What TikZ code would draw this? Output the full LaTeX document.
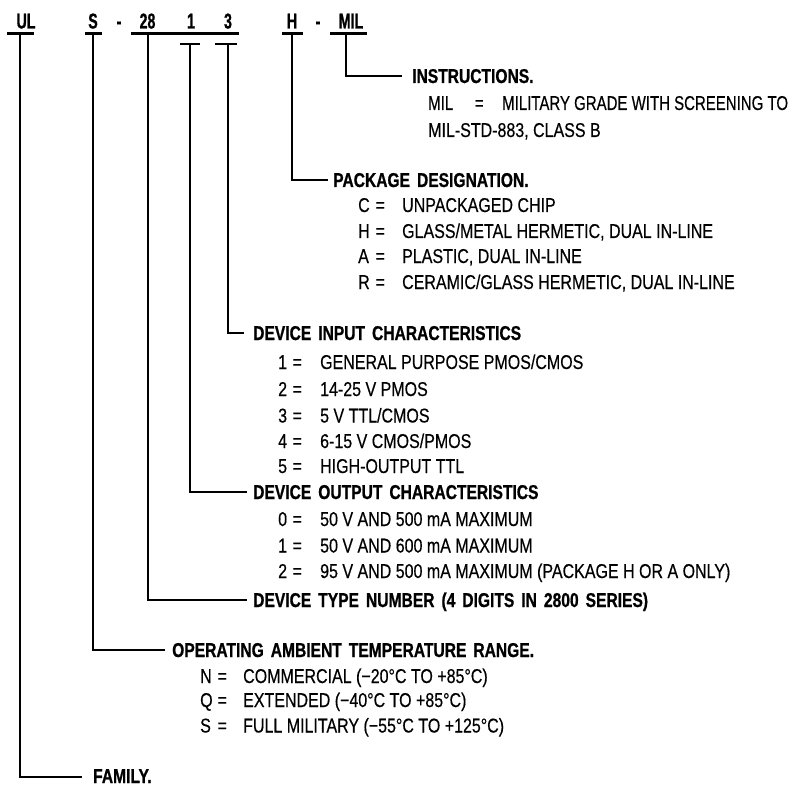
\documentclass[tikz,border=0pt]{standalone}
\usepackage{fontspec}
\setmainfont{Liberation Sans}
\newfontfamily\bodyf{Liberation Sans}[FakeStretch=0.80, FakeBold=0.4]
\newfontfamily\bodyn{Liberation Sans}[FakeStretch=0.75, FakeBold=0.4]
\newfontfamily\headf{Liberation Sans Bold}[FakeStretch=0.78, FakeBold=0.8]
\newfontfamily\codef{Liberation Sans Bold}[FakeStretch=0.66, FakeBold=0.8]
\newcommand\kvline[4]{\makebox[#1][l]{#3}\makebox[0pt][c]{=}\hspace{#2}#4}
\newcommand\widesp{\fontdimen2\font=7pt\relax}
\begin{document}
\begin{tikzpicture}[x=1pt,y=-1pt,
  code/.style={font=\codef\fontsize{21.5}{21.5}\selectfont, inner sep=0pt, anchor=base},
  head/.style={font=\headf\fontsize{20}{20}\selectfont\widesp, inner sep=0pt, anchor=base west},
  item/.style={font=\bodyf\fontsize{20}{20}\selectfont, inner sep=0pt, anchor=base west},
  itemn/.style={font=\bodyn\fontsize{20}{20}\selectfont, inner sep=0pt, anchor=base west},
  lead/.style={line width=2.3pt}]
\useasboundingbox (0,0) rectangle (805,786);
% --- code letters
\node[code] (cUL)  at (26,28.5)    {UL};
\node[code] (cS)   at (93,28.5)    {S};
\node[code] (dA)   at (119,28.5)   {-};
\node[code] (c28)  at (147.5,28.5) {28};
\node[code] (c1)   at (191,28.5)   {1};
\node[code] (c3)   at (228,28.5)   {3};
\node[code] (cH)   at (292,28.5)   {H};
\node[code] (dB)   at (318,28.5)   {-};
\node[code] (cMIL) at (351,28.5)   {MIL};
% --- underlines
\coordinate (uULa) at (7,33.5);   \coordinate (uULb) at (34,33.5);
\coordinate (uSa) at (85,33.5);   \coordinate (uSb) at (102,33.5);
\coordinate (u28a) at (131,33.5); \coordinate (u28b) at (239,33.5);
\coordinate (u1a) at (180,44);  \coordinate (u1b) at (200,44);
\coordinate (u3a) at (215,44);  \coordinate (u3b) at (237,44);
\coordinate (uHa) at (282,33.5);  \coordinate (uHb) at (303,33.5);
\coordinate (uMa) at (330,33.5);  \coordinate (uMb) at (367,33.5);
\draw[lead] (uULa) -- (uULb);
\draw[lead] (uSa) -- (uSb);
\draw[lead] (u28a) -- (u28b);
\draw[lead] (u1a) -- (u1b);
\draw[lead] (u3a) -- (u3b);
\draw[lead] (uHa) -- (uHb);
\draw[lead] (uMa) -- (uMb);
% --- leader start points
\coordinate (sUL) at (20,33.5);
\coordinate (sS) at (93,33.5);
\coordinate (s28) at (148,33.5);
\coordinate (s1) at (190,44);
\coordinate (s3) at (228,44);
\coordinate (sH) at (292,33.5);
\coordinate (sM) at (346,33.5);
% --- leader end points
\coordinate (eUL) at (82,777);
\coordinate (eS) at (165,650);
\coordinate (e28) at (247,600);
\coordinate (e1) at (247,492);
\coordinate (e3) at (244,333);
\coordinate (eH) at (328,180);
\coordinate (eM) at (402,76);
\draw[lead] (sUL) |- (eUL);
\draw[lead] (sS) |- (eS);
\draw[lead] (s28) |- (e28);
\draw[lead] (s1) |- (e1);
\draw[lead] (s3) |- (e3);
\draw[lead] (sH) |- (eH);
\draw[lead] (sM) |- (eM);
% --- INSTRUCTIONS
\node[head] (hM) at (412,83) {INSTRUCTIONS.};
\node[itemn] (iM1) at (428,110) {\kvline{51pt}{23pt}{MIL}{MILITARY GRADE WITH SCREENING TO}};
\node[item] (iM2) at (428,137) {MIL-STD-883, CLASS B};
% --- PACKAGE
\node[head] (hH) at (333,187) {PACKAGE DESIGNATION.};
\node[item] (iH1) at (358,212) {\kvline{22pt}{22pt}{C}{UNPACKAGED CHIP}};
\node[item] (iH2) at (358,238) {\kvline{22pt}{22pt}{H}{GLASS/METAL HERMETIC, DUAL IN-LINE}};
\node[item] (iH3) at (358,263) {\kvline{22pt}{22pt}{A}{PLASTIC, DUAL IN-LINE}};
\node[item] (iH4) at (358,289) {\kvline{22pt}{22pt}{R}{CERAMIC/GLASS HERMETIC, DUAL IN-LINE}};
% --- INPUT
\node[head] (h3) at (253,340) {DEVICE INPUT CHARACTERISTICS};
\node[item] (i31) at (278,369) {\kvline{19pt}{23pt}{1}{GENERAL PURPOSE PMOS/CMOS}};
\node[item] (i32) at (278,396) {\kvline{19pt}{23pt}{2}{14-25 V PMOS}};
\node[item] (i33) at (278,422.5) {\kvline{19pt}{23pt}{3}{5 V TTL/CMOS}};
\node[item] (i34) at (278,448) {\kvline{19pt}{23pt}{4}{6-15 V CMOS/PMOS}};
\node[item] (i35) at (278,473) {\kvline{19pt}{23pt}{5}{HIGH-OUTPUT TTL}};
% --- OUTPUT
\node[head] (h1) at (253,499) {DEVICE OUTPUT CHARACTERISTICS};
\node[item] (i10) at (278,526) {\kvline{19pt}{23pt}{0}{50 V AND 500 mA MAXIMUM}};
\node[item] (i11) at (278,552.5) {\kvline{19pt}{23pt}{1}{50 V AND 600 mA MAXIMUM}};
\node[item] (i12) at (278,578) {\kvline{19pt}{23pt}{2}{95 V AND 500 mA MAXIMUM (PACKAGE H OR A ONLY)}};
% --- TYPE
\node[head] (h28) at (253,607) {DEVICE TYPE NUMBER (4 DIGITS IN 2800 SERIES)};
% --- TEMPERATURE
\node[head] (hS) at (172,657) {OPERATING AMBIENT TEMPERATURE RANGE.};
\node[item] (iS1) at (200,683) {\kvline{22pt}{21pt}{N}{COMMERCIAL (−20°C TO +85°C)}};
\node[item] (iS2) at (200,707) {\kvline{22pt}{21pt}{Q}{EXTENDED (−40°C TO +85°C)}};
\node[item] (iS3) at (200,732.5) {\kvline{22pt}{21pt}{S}{FULL MILITARY (−55°C TO +125°C)}};
% --- FAMILY
\node[head] (hUL) at (93,783) {FAMILY.};
\end{tikzpicture}
\end{document}
